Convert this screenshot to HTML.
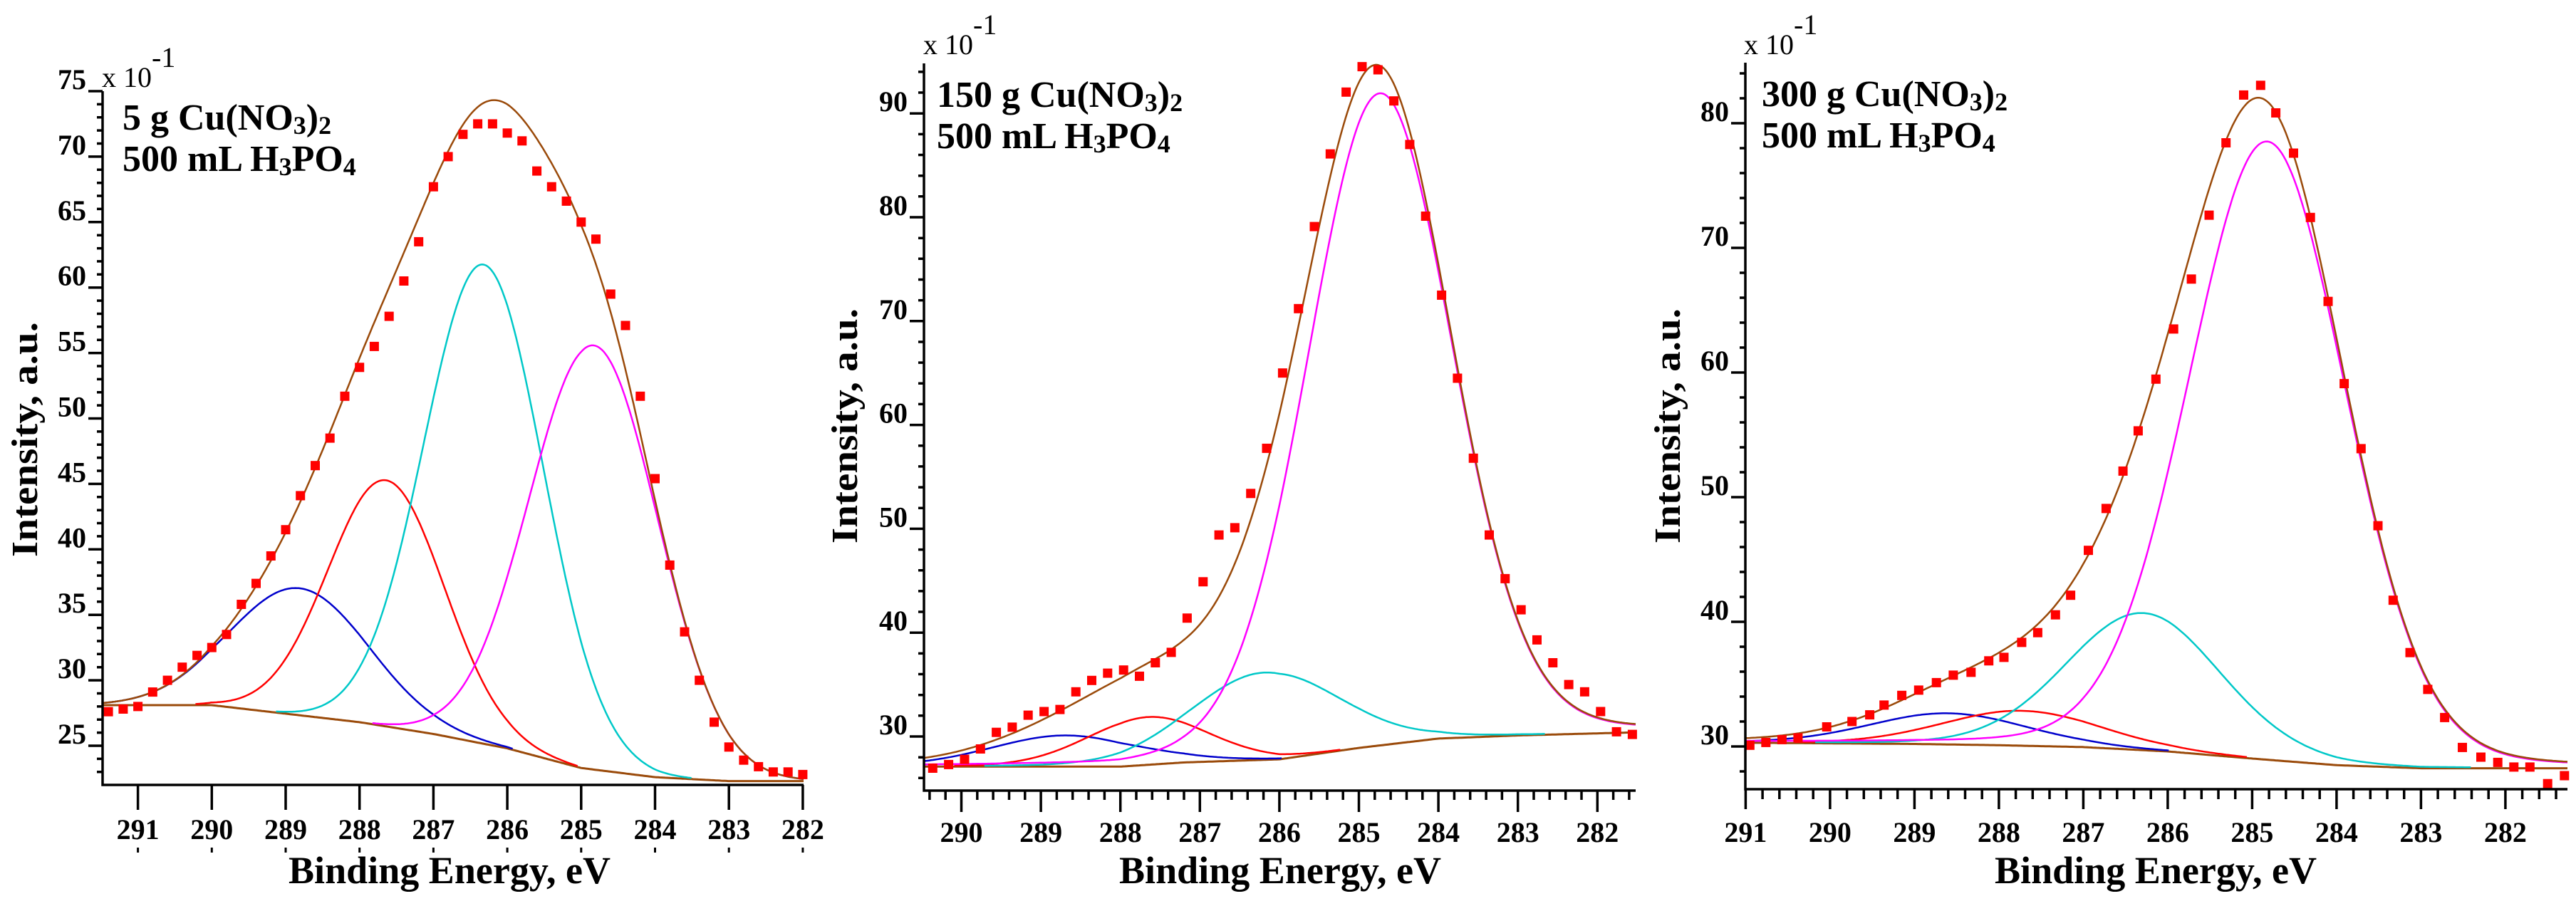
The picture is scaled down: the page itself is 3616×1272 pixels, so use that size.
<!DOCTYPE html>
<html><head><meta charset="utf-8">
<style>
html,body{margin:0;padding:0;background:#fff;}
svg, svg text{font-family:"Liberation Serif","Times New Roman",serif;}
</style></head>
<body>
<svg id="chart" width="3616" height="1267" viewBox="0 0 3616 1267" xmlns="http://www.w3.org/2000/svg" font-family="Liberation Serif, serif">
<rect x="0" y="0" width="3616" height="1267" fill="#fff"/>
</svg>
<script>
// ---------- Panel 1 data ----------
const p1Energy=[291.4,291.2,291.0,290.8,290.6,290.4,290.2,290.0,289.8,289.6,289.4,289.2,289.0,288.8,288.6,288.4,288.2,288.0,287.8,287.6,287.4,287.2,287.0,286.8,286.6,286.4,286.2,286.0,285.8,285.6,285.4,285.2,285.0,284.8,284.6,284.4,284.2,284.0,283.8,283.6,283.4,283.2,283.0,282.8,282.6,282.4,282.2,282.0];
const p1Counts=[27.6,27.8,28.0,29.1,30.0,31.0,31.9,32.5,33.5,35.8,37.4,39.5,41.5,44.1,46.4,48.5,51.7,53.9,55.5,57.8,60.5,63.5,67.7,70.0,71.7,72.5,72.5,71.8,71.2,68.9,67.7,66.6,65.0,63.7,59.5,57.1,51.7,45.4,38.8,33.7,30.0,26.8,24.9,23.9,23.4,23.0,23.0,22.8];
const p1BgEnergy=[291.5,290,289,288,287,286,285,284,283,282];
const p1BgLevel=[28.1,28.1,27.45,26.8,25.9,24.8,23.3,22.6,22.3,22.3];
const p1PeakCenter=[288.81,287.64,286.32,284.83];
const p1PeakHeight=[9.7,18.8,36.6,32.4];
const p1PeakFwhm=[2.2,1.85,1.9,2.05];
const p1XTicks=[291,290,289,288,287,286,285,284,283,282];
const p1YTicks=[25,30,35,40,45,50,55,60,65,70,75];

// ---------- Panel 2 data ----------
const p2Energy=[290.36,290.16,289.96,289.76,289.56,289.36,289.16,288.96,288.76,288.56,288.36,288.16,287.96,287.76,287.56,287.36,287.16,286.96,286.76,286.56,286.36,286.16,285.96,285.76,285.56,285.36,285.16,284.96,284.76,284.56,284.36,284.16,283.96,283.76,283.56,283.36,283.16,282.96,282.76,282.56,282.36,282.16,281.96,281.76,281.56];
const p2Counts=[26.95,27.3,27.8,28.8,30.4,30.9,32.05,32.4,32.6,34.3,35.4,36.1,36.4,35.8,37.1,38.1,41.4,44.9,49.4,50.1,53.4,57.75,65.0,71.2,79.1,86.1,92.05,94.5,94.2,91.2,87.0,80.1,72.5,64.5,56.8,49.4,45.2,42.2,39.3,37.1,35.0,34.3,32.4,30.45,30.2];
const p2BgEnergy=[290.5,288,287.2,286,285,284,283,281.5];
const p2BgLevel=[27.1,27.1,27.5,27.8,28.9,29.8,30.1,30.4];
const p2PeakCenter=[288.69,287.66,286.18,284.74];
const p2PeakHeight=[3.0,4.6,8.4,62.8];
const p2PeakFwhm=[2.2,1.8,2.2,2.15];
const p2XTicks=[290,289,288,287,286,285,284,283,282];
const p2YTicks=[30,40,50,60,70,80,90];

// ---------- Panel 3 data ----------
const p3Energy=[290.95,290.76,290.57,290.38,290.04,289.74,289.53,289.36,289.15,288.95,288.74,288.54,288.33,288.12,287.94,287.73,287.54,287.33,287.15,286.94,286.73,286.53,286.35,286.14,285.93,285.72,285.51,285.31,285.10,284.90,284.72,284.51,284.31,284.10,283.91,283.71,283.51,283.33,283.13,282.92,282.72,282.51,282.29,282.09,281.90,281.71,281.50,281.30];
const p3Counts=[30.1,30.32,30.55,30.69,31.57,32.0,32.54,33.32,34.1,34.52,35.12,35.72,35.95,36.87,37.15,38.35,39.13,40.56,42.13,45.73,49.09,52.09,55.32,59.47,63.49,67.5,72.62,78.43,82.26,83.04,80.83,77.6,72.44,65.7,59.11,53.89,47.71,41.73,37.53,34.58,32.32,29.92,29.14,28.72,28.35,28.35,27.02,27.66];
const p3BgEnergy=[291,289,288,287,286,285,284,283,281.3];
const p3BgLevel=[30.3,30.2,30.1,29.95,29.6,29.03,28.5,28.25,28.25];
const p3PeakCenter=[288.6,287.73,286.29,284.82];
const p3PeakHeight=[2.5,2.8,11.0,49.6];
const p3PeakFwhm=[2.2,2.2,2.16,2.2];
const p3XTicks=[291,290,289,288,287,286,285,284,283,282];
const p3YTicks=[30,40,50,60,70,80];

const NS="http://www.w3.org/2000/svg";
const svg=document.getElementById('chart');
const peakColors=['#0000cc','#ff0000','#00c8c8','#ff00ff'];
const peakNames=['peak-blue','peak-red','peak-cyan','peak-magenta'];
const BROWN='#9a4a0a';
const FONT='Liberation Serif, Times New Roman, serif';

function mk(tag,attrs,parent){
  const e=document.createElementNS(NS,tag);
  for(const k in attrs) e.setAttribute(k,attrs[k]);
  if(tag==='text') e.setAttribute('font-family',FONT);
  (parent||svg).appendChild(e);
  return e;
}
function interp(xs,ys,x){
  if(x>=xs[0]) return ys[0];
  for(let i=0;i<xs.length-1;i++){
    if(x<=xs[i]&&x>=xs[i+1]){const t=(xs[i]-x)/(xs[i]-xs[i+1]);return ys[i]+t*(ys[i+1]-ys[i]);}
  }
  return ys[ys.length-1];
}
function pv(x,c,h,w,m){
  const d=(x-c)/w;
  return h*((1-m)*Math.exp(-4*Math.LN2*d*d)+m/(1+4*d*d));
}

function drawPanel(L,energy,counts,bgE,bgV,pc,ph,pw,xt,yt){
  const g=mk('g',{});
  
  
  const X=e=>L.x0+(L.e0-e)*L.pxPerEv;
  const Y=v=>L.y0+(L.v0-v)*L.pxPerUnit;
  const eLeft=L.e0+(L.x0-L.left)/L.pxPerEv, eRight=L.e0-(L.right-L.x0)/L.pxPerEv;
  const vBot=L.v0-(L.bottom-L.y0)/L.pxPerUnit, vTop=L.v0+(L.y0-L.top)/L.pxPerUnit;
  const clip=mk('clipPath',{id:'clip'+L.id},g);
  mk('rect',{x:L.left,y:L.top-20,width:L.right-L.left+8,height:L.bottom-L.top+20},clip);
  const plot=mk('g',{'clip-path':'url(#clip'+L.id+')'},g);
  
  
  const N=400, xs=[];
  for(let i=0;i<=N;i++) xs.push(eLeft-(eLeft-eRight)*i/N);
  const bg=x=>interp(bgE,bgV,x);
  let d='';
  xs.forEach((x,i)=>{d+=(i?'L':'M')+X(x).toFixed(1)+' '+Y(bg(x)).toFixed(1);});
  const bgPath=mk('path',{d:d,fill:'none',stroke:BROWN,'stroke-width':3},plot);
  
  
  for(let k=0;k<pc.length;k++){
    let dd='',started=false;
    xs.forEach(x=>{
      const f=pv(x,pc[k],ph[k],pw[k],L.mix);
      if(f>0.08){dd+=(started?'L':'M')+X(x).toFixed(1)+' '+Y(bg(x)+f).toFixed(1);started=true;}
    });
    const p=mk('path',{d:dd,fill:'none',stroke:peakColors[k],'stroke-width':2.5},plot);
    
    
  }
  let de='';
  xs.forEach((x,i)=>{let s=bg(x);for(let k=0;k<pc.length;k++)s+=pv(x,pc[k],ph[k],pw[k],L.mix);de+=(i?'L':'M')+X(x).toFixed(1)+' '+Y(s).toFixed(1);});
  const env=mk('path',{d:de,fill:'none',stroke:BROWN,'stroke-width':2.5},plot);
  
  
  for(let i=0;i<energy.length;i++){
    const r=mk('rect',{x:(X(energy[i])-6.5).toFixed(1),y:(Y(counts[i])-6.5).toFixed(1),width:13,height:13,fill:'#ff0000'},plot);
    
    
  }
  const ax=mk('path',{d:`M${L.left} ${L.top}V${L.bottom}H${L.right}`,fill:'none',stroke:'#000','stroke-width':3.5},g);
  
  
  let td='';
  for(let v=Math.ceil(vBot/L.yMinor)*L.yMinor;v<=vTop+1e-6;v+=L.yMinor){
    const y=Y(v).toFixed(1);
    const major=yt.some(t=>Math.abs(t-v)<1e-6);
    td+=`M${L.left-(major?20:8)} ${y}H${L.left}`;
  }
  if(L.xMinor){
    for(let e=Math.floor(eLeft/L.xMinor)*L.xMinor;e>=eRight-1e-6;e-=L.xMinor){
      const major=xt.some(t=>Math.abs(t-e)<1e-6);
      if(!major) td+=`M${X(e).toFixed(1)} ${L.bottom}v${L.minorLen}`;
    }
  }
  xt.forEach(t=>{td+=`M${X(t).toFixed(1)} ${L.bottom}v${L.majorLen}`;});
  const tk=mk('path',{d:td,fill:'none',stroke:'#000','stroke-width':3.5},g);
  
  
  if(L.dots){xt.forEach(t=>{const r=mk('rect',{x:X(t)-1.5,y:1190,width:3,height:7,fill:'#000'},g);});}
  yt.forEach(t=>{
    const tx=mk('text',{x:L.left-23,y:(Y(t)-3).toFixed(1),'text-anchor':'end','font-size':40,'font-weight':'bold'},g);
    tx.textContent=t;
    
    
  });
  xt.forEach(t=>{
    const tx=mk('text',{x:X(t).toFixed(1),y:L.xLabelY,'text-anchor':'middle','font-size':40,'font-weight':'bold'},g);
    tx.textContent=t;
    
    
  });
  const m=mk('text',{x:L.multX,y:L.multY,'font-size':40},g);
  
  
  m.innerHTML='x 10<tspan dy="-28" font-size="40">-1</tspan>';
  const a1=mk('text',{x:L.annX,y:L.annY,'font-size':52,'font-weight':'bold'},g);
  
  
  a1.innerHTML=L.ann1+' Cu(NO<tspan font-size="36" dy="6">3</tspan><tspan dy="-6">)</tspan><tspan font-size="36" dy="6">2</tspan>';
  const a2=mk('text',{x:L.annX,y:L.annY+58,'font-size':52,'font-weight':'bold'},g);
  
  
  a2.innerHTML='500 mL H<tspan font-size="36" dy="6">3</tspan><tspan dy="-6">PO</tspan><tspan font-size="36" dy="6">4</tspan>';
  const xt2=mk('text',{x:L.xTitleX,y:1240,'text-anchor':'middle','font-size':54,'font-weight':'bold',textLength:452,lengthAdjust:'spacingAndGlyphs'},g);
  xt2.textContent='Binding Energy, eV';
  
  
  const yt2=mk('text',{x:0,y:0,'text-anchor':'middle','font-size':52,'font-weight':'bold',textLength:330,lengthAdjust:'spacingAndGlyphs',transform:`translate(${L.yTitleX},${L.yTitleY}) rotate(-90)`},g);
  yt2.textContent='Intensity, a.u.';
  
  
}

drawPanel({id:1,name:'panel-5g',left:144,right:1128,top:128,bottom:1102,e0:291,x0:193.6,pxPerEv:103.7,v0:75,y0:128,pxPerUnit:18.38,yMinor:1,xMinor:0,majorLen:35,minorLen:0,dots:true,xLabelY:1178,mix:0,multX:143,multY:122,annX:172,annY:182,ann1:'5 g',xTitleX:631,yTitleX:52,yTitleY:617},
  p1Energy,p1Counts,p1BgEnergy,p1BgLevel,p1PeakCenter,p1PeakHeight,p1PeakFwhm,p1XTicks,p1YTicks);
drawPanel({id:2,name:'panel-150g',left:1297,right:2296,top:89,bottom:1110,e0:290,x0:1349.5,pxPerEv:111.6,v0:90,y0:159.2,pxPerUnit:14.58,yMinor:2,xMinor:0.2,majorLen:30,minorLen:13,dots:false,xLabelY:1182,mix:0.1,multX:1296,multY:76,annX:1315,annY:150,ann1:'150 g',xTitleX:1797,yTitleX:1203,yTitleY:598},
  p2Energy,p2Counts,p2BgEnergy,p2BgLevel,p2PeakCenter,p2PeakHeight,p2PeakFwhm,p2XTicks,p2YTicks);
drawPanel({id:3,name:'panel-300g',left:2450,right:3604,top:88,bottom:1108,e0:291,x0:2450.4,pxPerEv:118.5,v0:80,y0:173,pxPerUnit:17.5,yMinor:2,xMinor:0.2,majorLen:28,minorLen:14,dots:false,xLabelY:1182,mix:0.1,multX:2448,multY:76,annX:2473,annY:149,ann1:'300 g',xTitleX:3026,yTitleX:2358,yTitleY:598},
  p3Energy,p3Counts,p3BgEnergy,p3BgLevel,p3PeakCenter,p3PeakHeight,p3PeakFwhm,p3XTicks,p3YTicks);
</script>
</body></html>
